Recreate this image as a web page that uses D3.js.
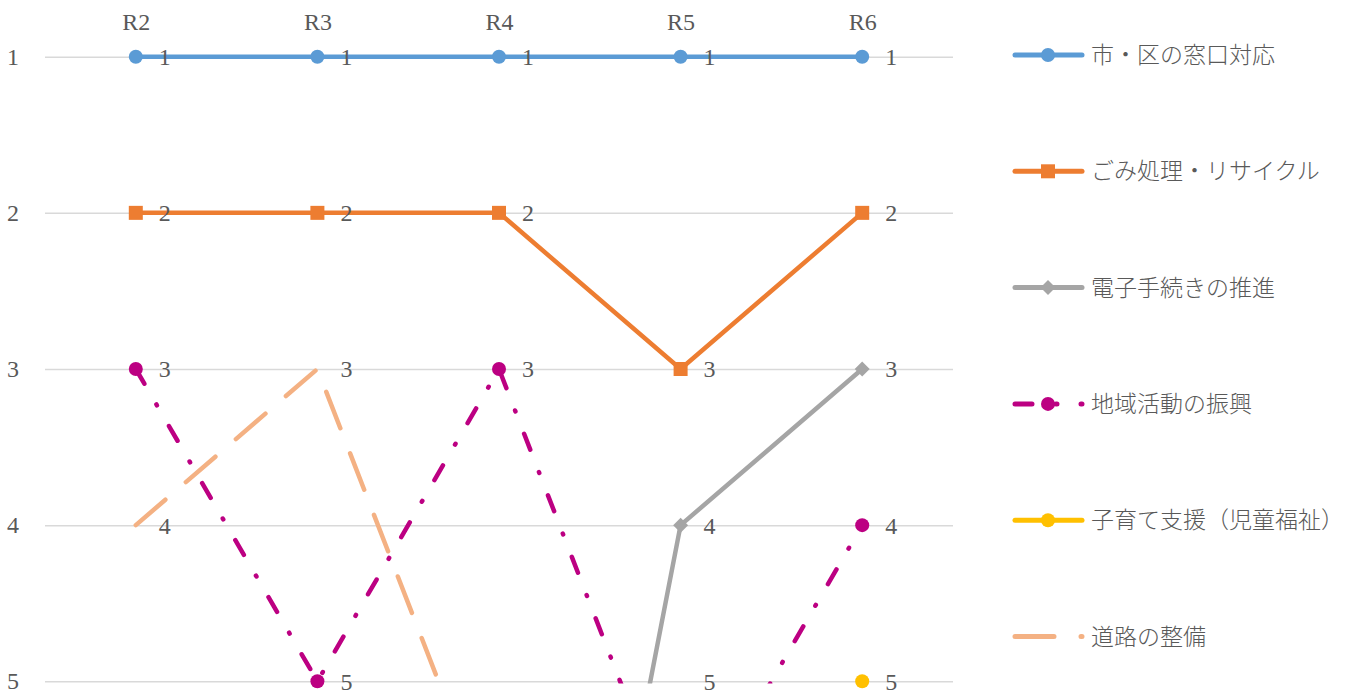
<!DOCTYPE html>
<html>
<head>
<meta charset="utf-8">
<script src="https://cdn.jsdelivr.net/npm/d3@7"></script>
<style>
  body { margin: 0; background: #fff; }
  text { fill: #595959; }
</style>
</head>
<body>
<svg id="chart"></svg>
<script>
// 年度
const categories = ["R2", "R3", "R4", "R5", "R6"];
const rankTicks = [1, 2, 3, 4, 5];

// 順位（5位より下は枠外）
const madoguchi = [1, 1, 1, 1, 1];
const gomi = [2, 2, 2, 3, 2];
const denshi = [8, 7, 10, 4, 3];
const chiiki = [3, 5, 3, 6, 4];
const kosodate = [6, 7, 7, 7, 5];
const douro = [4, 3, 6, 5, 6];

const seriesNames = ["市・区の窓口対応", "ごみ処理・リサイクル", "電子手続きの推進",
                     "地域活動の振興", "子育て支援（児童福祉）", "道路の整備"];
const seriesValues = [madoguchi, gomi, denshi, chiiki, kosodate, douro];

const styles = [
  { color: "#5B9BD5", marker: "circle", dash: null },
  { color: "#ED7D31", marker: "square", dash: null },
  { color: "#A5A5A5", marker: "diamond", dash: null },
  { color: "#BC0082", marker: "circle", dash: "17 24 1 24" },
  { color: "#FFC000", marker: "circle", dash: null },
  { color: "#F4B183", marker: "none", dash: "39 27" }
];

const W = 1358, H = 698;
const plot = { left: 45, right: 953, top: 56.7, bottom: 681.3 };

const svg = d3.select("#chart").attr("width", W).attr("height", H);

const x = d3.scalePoint()
            .domain(categories)
            .range([plot.left, plot.right])
            .padding(0.5);

const y = d3.scaleLinear()
            .domain([1, 5])
            .range([plot.top, plot.bottom]);

const numFont = "'Liberation Serif', 'DejaVu Serif', serif";
const jpFont = "'Noto Sans CJK JP', sans-serif";

// grid + y labels
const yAxisG = svg.append("g")
  .attr("transform", `translate(${plot.left},0)`)
  .call(d3.axisLeft(y).tickValues(rankTicks).tickFormat(d3.format("d"))
          .tickSizeInner(-(plot.right - plot.left)).tickSizeOuter(0).tickPadding(26));
yAxisG.select(".domain").remove();
yAxisG.selectAll("line").attr("stroke", "#D9D9D9").attr("stroke-width", 1.5);
yAxisG.selectAll("text")
  .style("font-family", numFont).style("font-size", "24px").attr("fill", "#595959");

// x labels (top)
const xAxisG = svg.append("g")
  .attr("transform", `translate(0,${plot.top})`)
  .call(d3.axisTop(x).tickSize(0).tickPadding(27));
xAxisG.select(".domain").remove();
xAxisG.selectAll("text")
  .style("font-family", numFont).style("font-size", "24px").attr("fill", "#595959");

svg.append("clipPath").attr("id", "plotclip")
   .append("rect")
   .attr("x", 0).attr("y", 0)
   .attr("width", W).attr("height", plot.bottom + 2.2);

const line = d3.line()
               .x((d, i) => x(categories[i]))
               .y(d => y(d));

function drawMarker(g, type, cx, cy, color, s) {
  if (type === "circle") {
    g.append("circle").attr("cx", cx).attr("cy", cy).attr("r", 7 * s).attr("fill", color);
  } else if (type === "square") {
    g.append("rect").attr("x", cx - 7 * s).attr("y", cy - 7 * s)
     .attr("width", 14 * s).attr("height", 14 * s).attr("fill", color);
  } else if (type === "diamond") {
    const r = 7.5 * s;
    g.append("path")
     .attr("d", `M${cx},${cy - r}L${cx + r},${cy}L${cx},${cy + r}L${cx - r},${cy}Z`)
     .attr("fill", color);
  }
}

const linesG = svg.append("g").attr("clip-path", "url(#plotclip)");
const markersG = svg.append("g");
const labelsG = svg.append("g");

seriesValues.forEach((vals, si) => {
  const st = styles[si];
  linesG.append("path")
    .datum(vals)
    .attr("fill", "none")
    .attr("stroke", st.color)
    .attr("stroke-width", 4.5)
    .attr("stroke-linejoin", "round")
    .attr("stroke-linecap", st.dash ? "round" : "butt")
    .attr("stroke-dasharray", st.dash)
    .attr("d", line);

  vals.forEach((v, i) => {
    if (v > 5) return;
    drawMarker(markersG, st.marker, x(categories[i]), y(v), st.color, 1);
  });
});

seriesValues.forEach(vals => {
  vals.forEach((v, i) => {
    if (v > 5) return;
    labelsG.append("text")
      .attr("x", x(categories[i]) + 23)
      .attr("y", y(v))
      .attr("dy", "0.35em")
      .style("font-family", numFont)
      .style("font-size", "24px")
      .text(v);
  });
});

// legend
const legend = svg.append("g");
seriesNames.forEach((name, si) => {
  const st = styles[si];
  const ly = 55 + si * 116.3;
  legend.append("line")
    .attr("x1", 1015).attr("x2", 1082)
    .attr("y1", ly).attr("y2", ly)
    .attr("stroke", st.color)
    .attr("stroke-width", 5)
    .attr("stroke-linecap", "round")
    .attr("stroke-dasharray", st.dash);
  drawMarker(legend, st.marker, 1048, ly, st.color, 1);
  legend.append("text")
    .attr("x", 1091)
    .attr("y", ly)
    .attr("dy", "0.35em")
    .style("font-family", jpFont)
    .style("font-size", "23px")
    .style("font-weight", 300)
    .text(name);
});
</script>
</body>
</html>
